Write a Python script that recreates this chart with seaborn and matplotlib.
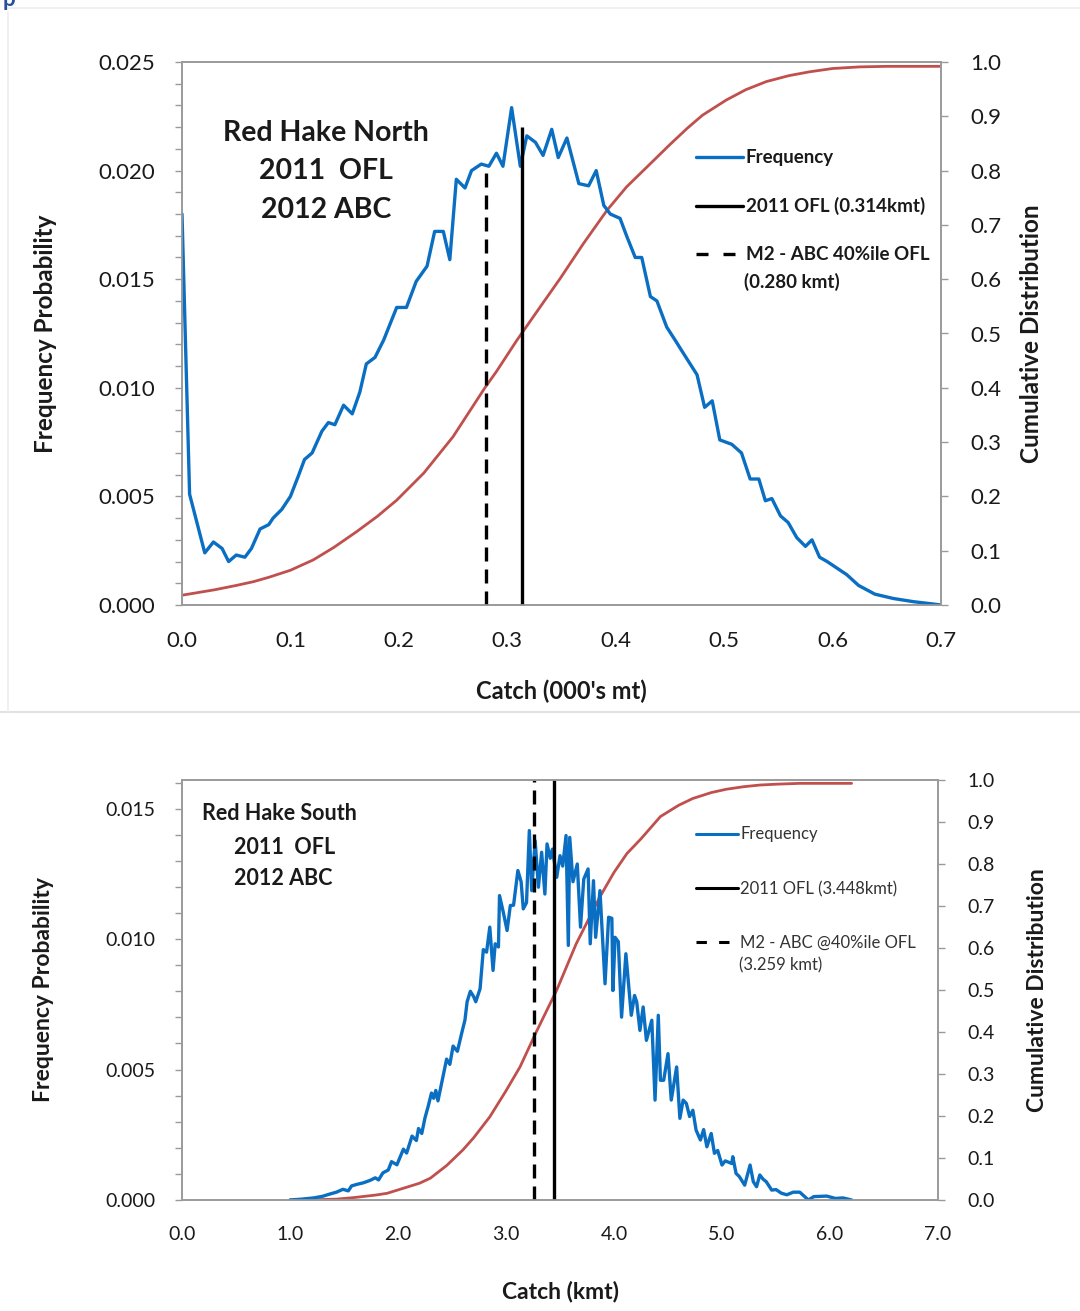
import matplotlib
matplotlib.use('Agg')
import matplotlib.pyplot as plt
import matplotlib.ticker as mticker
from matplotlib.lines import Line2D
import pandas as pd
import seaborn as sns

# Red Hake North - frequency
north_x = [0.000, 0.007, 0.021, 0.029, 0.037, 0.043, 0.050, 0.058, 0.064, 0.072,
           0.080, 0.084, 0.092, 0.100, 0.107, 0.113, 0.120, 0.129, 0.135, 0.141,
           0.149, 0.157, 0.164, 0.170, 0.178, 0.186, 0.198, 0.207, 0.216, 0.226,
           0.233, 0.241, 0.247, 0.253, 0.261, 0.267, 0.276, 0.283, 0.290, 0.296,
           0.304, 0.312, 0.318, 0.326, 0.333, 0.341, 0.347, 0.355, 0.366, 0.375,
           0.382, 0.389, 0.395, 0.404, 0.410, 0.418, 0.424, 0.432, 0.438, 0.447,
           0.456, 0.461, 0.475, 0.482, 0.489, 0.496, 0.507, 0.516, 0.524, 0.532,
           0.538, 0.544, 0.552, 0.559, 0.567, 0.575, 0.581, 0.588, 0.595, 0.604,
           0.613, 0.624, 0.639, 0.656, 0.675, 0.687, 0.700]
north_freq = [0.0180, 0.0051, 0.0024, 0.0029, 0.0026, 0.0020, 0.0023, 0.0022, 0.0026, 0.0035,
              0.0037, 0.0040, 0.0044, 0.0050, 0.0059, 0.0067, 0.0070, 0.0080, 0.0084, 0.0083,
              0.0092, 0.0088, 0.0098, 0.0111, 0.0114, 0.0122, 0.0137, 0.0137, 0.0149, 0.0156,
              0.0172, 0.0172, 0.0159, 0.0196, 0.0192, 0.0200, 0.0203, 0.0202, 0.0208, 0.0202,
              0.0229, 0.0202, 0.0216, 0.0213, 0.0207, 0.0219, 0.0206, 0.0215, 0.0194, 0.0193,
              0.0200, 0.0184, 0.0180, 0.0178, 0.0170, 0.0160, 0.0160, 0.0142, 0.0140, 0.0128,
              0.0121, 0.0117, 0.0106, 0.0091, 0.0094, 0.0076, 0.0074, 0.0070, 0.0058, 0.0058,
              0.0048, 0.0049, 0.0041, 0.0038, 0.0031, 0.0027, 0.0030, 0.0022, 0.0020, 0.0017,
              0.0014, 0.0009, 0.0005, 0.0003, 0.00015, 0.00008, 0.0000]
north_cdf_x = [0.000, 0.030, 0.050, 0.066, 0.080, 0.100, 0.121, 0.140, 0.161, 0.180,
               0.198, 0.223, 0.250, 0.279, 0.290, 0.309, 0.330, 0.349, 0.370, 0.392,
               0.410, 0.429, 0.450, 0.466, 0.480, 0.502, 0.520, 0.539, 0.560, 0.579,
               0.600, 0.625, 0.650, 0.700]
north_cdf = [0.018, 0.028, 0.036, 0.043, 0.051, 0.064, 0.083, 0.106, 0.135, 0.163,
             0.193, 0.243, 0.310, 0.399, 0.430, 0.488, 0.548, 0.602, 0.665, 0.727,
             0.770, 0.807, 0.848, 0.878, 0.902, 0.930, 0.949, 0.964, 0.975, 0.982,
             0.988, 0.991, 0.992, 0.992]
north_ofl = 0.314
north_abc = 0.280

# Red Hake South - frequency
south_x = [1.00, 1.10, 1.22, 1.30, 1.37, 1.43, 1.49, 1.54, 1.57, 1.62,
           1.68, 1.74, 1.79, 1.82, 1.86, 1.91, 1.94, 1.99, 2.05, 2.08,
           2.13, 2.17, 2.19, 2.22, 2.25, 2.28, 2.31, 2.33, 2.35, 2.37,
           2.40, 2.45, 2.48, 2.51, 2.55, 2.59, 2.62, 2.64, 2.67, 2.70,
           2.72, 2.76, 2.79, 2.82, 2.85, 2.88, 2.90, 2.93, 2.94, 2.975,
           3.01, 3.04, 3.07, 3.11, 3.14, 3.16, 3.19, 3.216, 3.238, 3.27,
           3.30, 3.33, 3.36, 3.38, 3.41, 3.43, 3.47, 3.50, 3.525, 3.556,
           3.577, 3.59, 3.62, 3.66, 3.69, 3.72, 3.76, 3.78, 3.81, 3.83,
           3.87, 3.917, 3.95, 3.98, 3.99, 4.01, 4.04, 4.07, 4.11, 4.16,
           4.19, 4.21, 4.24, 4.27, 4.30, 4.35, 4.38, 4.41, 4.43, 4.46,
           4.50, 4.53, 4.58, 4.61, 4.64, 4.67, 4.70, 4.73, 4.76, 4.80,
           4.83, 4.86, 4.90, 4.93, 4.96, 5.00, 5.03, 5.09, 5.10, 5.13,
           5.16, 5.21, 5.26, 5.29, 5.32, 5.35, 5.38, 5.41, 5.46, 5.50,
           5.55, 5.60, 5.66, 5.72, 5.80, 5.85, 5.97, 6.05, 6.12, 6.20]
south_freq = [0.0, 0.00003, 0.00008, 0.00014, 0.00023, 0.00030, 0.00041, 0.00035, 0.00054, 0.00060,
              0.00066, 0.00075, 0.00085, 0.00077, 0.00104, 0.00115, 0.00147, 0.00135, 0.00195, 0.00180,
              0.00245, 0.00228, 0.00274, 0.00255, 0.00315, 0.00360, 0.00410, 0.00390, 0.00420, 0.00380,
              0.00440, 0.00540, 0.00520, 0.00590, 0.00570, 0.00640, 0.00690, 0.00760, 0.00800, 0.00780,
              0.00760, 0.00810, 0.00960, 0.00950, 0.01046, 0.00880, 0.00982, 0.00970, 0.01167, 0.01103,
              0.01033, 0.01129, 0.01130, 0.01263, 0.01220, 0.01116, 0.01140, 0.01416, 0.01186, 0.01377,
              0.01199, 0.01333, 0.01173, 0.01365, 0.01310, 0.01345, 0.01237, 0.01320, 0.01280, 0.01397,
              0.00976, 0.01390, 0.01220, 0.01288, 0.01046, 0.01230, 0.01269, 0.00982, 0.01224, 0.01007,
              0.01186, 0.00829, 0.01084, 0.01080, 0.00803, 0.01007, 0.00990, 0.00701, 0.00944, 0.00708,
              0.00784, 0.00760, 0.00650, 0.00740, 0.00612, 0.00689, 0.00383, 0.00708, 0.00459, 0.00459,
              0.00561, 0.00383, 0.00510, 0.00313, 0.00383, 0.00370, 0.00320, 0.00344, 0.00268, 0.00230,
              0.00270, 0.00204, 0.00255, 0.00179, 0.00190, 0.00134, 0.00150, 0.00140, 0.00166, 0.00102,
              0.00090, 0.00057, 0.00134, 0.00070, 0.00051, 0.00096, 0.00080, 0.00070, 0.00038, 0.00040,
              0.00026, 0.00020, 0.00030, 0.00030, 0.0, 0.00013, 0.00015, 0.00006, 0.00008, 0.0]
south_cdf_x = [1.00, 1.20, 1.43, 1.60, 1.80, 1.90, 2.05, 2.20, 2.30, 2.45,
               2.60, 2.70, 2.85, 3.00, 3.13, 3.28, 3.47, 3.65, 3.87, 4.00,
               4.12, 4.25, 4.43, 4.60, 4.73, 4.90, 5.04, 5.20, 5.35, 5.50,
               5.72, 6.00, 6.20]
south_cdf = [0.0, 0.0005, 0.002, 0.006, 0.012, 0.016, 0.028, 0.040, 0.052, 0.082,
             0.119, 0.148, 0.198, 0.260, 0.317, 0.400, 0.500, 0.610, 0.722, 0.780,
             0.825, 0.860, 0.913, 0.940, 0.956, 0.970, 0.978, 0.984, 0.988, 0.990,
             0.992, 0.992, 0.992]
south_ofl = 3.448
south_abc = 3.259

BLUE = '#0A6FC2'
RED = '#C0504D'
GREY = '#9A9A9A'
TXT = '#1a1a1a'
DASH = (0, (4.2, 2.4))

sns.set_style('white')
plt.rcParams['font.family'] = ['Lato', 'DejaVu Sans']


def style_axes(ax, ax2, tick_size):
    for a in (ax, ax2):
        for s in a.spines.values():
            s.set_color(GREY)
            s.set_linewidth(1.2)
    ax.tick_params(axis='both', which='both', direction='out', length=5, width=1,
                   color=GREY, labelsize=tick_size, labelcolor=TXT, pad=14)
    ax2.tick_params(axis='y', which='both', direction='out', length=5, width=1,
                    color=GREY, labelsize=tick_size, labelcolor=TXT, pad=16)
    ax2.set_ylim(0, 1.0)
    ax2.yaxis.set_major_locator(mticker.MultipleLocator(0.1))
    ax2.yaxis.set_major_formatter(mticker.FormatStrFormatter('%.1f'))
    ax2.grid(False)
    ax.grid(False)


def draw_panel(ax, fx, fy, cx, cy, ofl, abc, ofl_top, abc_top):
    df_f = pd.DataFrame({'x': fx, 'y': fy})
    df_c = pd.DataFrame({'x': cx, 'y': cy})
    ax2 = ax.twinx()
    sns.lineplot(data=df_c, x='x', y='y', ax=ax2, color=RED, linewidth=2.0,
                 estimator=None, sort=False)
    sns.lineplot(data=df_f, x='x', y='y', ax=ax, color=BLUE, linewidth=2.4,
                 estimator=None, sort=False)
    ax.vlines(ofl, 0, ofl_top, color='black', linewidth=2.4)
    ax.vlines(abc, 0, abc_top, color='black', linewidth=2.4, linestyles=DASH)
    ax.set_zorder(ax2.get_zorder() + 1)
    ax.patch.set_visible(False)
    ax2.set_ylabel('')
    return ax2


fig = plt.figure(figsize=(10.8, 13.11), dpi=100)

# ---------- top panel (north) ----------
ax = fig.add_axes([182 / 1080, 1 - 605 / 1311, (941 - 182) / 1080, (605 - 62) / 1311])
ax2 = draw_panel(ax, north_x, north_freq, north_cdf_x, north_cdf,
                 north_ofl, north_abc, 0.0220, 0.0201)
ax.set_xlim(0, 0.7)
ax.set_ylim(0, 0.025)
ax.xaxis.set_major_locator(mticker.MultipleLocator(0.1))
ax.xaxis.set_minor_locator(mticker.MultipleLocator(0.02))
ax.xaxis.set_major_formatter(mticker.FormatStrFormatter('%.1f'))
ax.yaxis.set_major_locator(mticker.MultipleLocator(0.005))
ax.yaxis.set_minor_locator(mticker.MultipleLocator(0.001))
ax.yaxis.set_major_formatter(mticker.FormatStrFormatter('%.3f'))
style_axes(ax, ax2, 16)
ax.set_xlabel("Catch (000's mt)", fontsize=17, fontweight='bold', color=TXT)
ax.set_ylabel('Frequency Probability', fontsize=17.5, fontweight='bold', color=TXT)
ax2.set_ylabel('Cumulative Distribution', fontsize=17.5, fontweight='bold', color=TXT)
ax.xaxis.set_label_coords(0.5, -0.138)
ax.yaxis.set_label_coords(-0.165, 0.5)
ax2.yaxis.set_label_coords(1.104, 0.5)
ax.text(0.19, 0.894, 'Red Hake North\n2011  OFL\n2012 ABC', transform=ax.transAxes,
        ha='center', va='top', fontsize=20.5, fontweight='bold', color=TXT, linespacing=1.6)

handles = [Line2D([], [], color=BLUE, lw=2.4),
           Line2D([], [], color='black', lw=2.4),
           Line2D([], [], color='black', lw=2.4, ls=(0, (3.6, 4.5)))]
labels = ['Frequency', '2011 OFL (0.314kmt)', 'M2 - ABC 40%ile OFL']
leg = ax.legend(handles, labels, loc='upper left', bbox_to_anchor=(0.655, 0.87),
                frameon=False, handlelength=2.5, handletextpad=0.15, labelspacing=1.65,
                prop={'size': 13.5, 'weight': 'bold'})
for t in leg.get_texts():
    t.set_color(TXT)
ax.text(0.74, 0.595, '(0.280 kmt)', transform=ax.transAxes, fontsize=13.5,
        fontweight='bold', color=TXT, va='center')

# ---------- bottom panel (south) ----------
bx = fig.add_axes([182 / 1080, 1 - 1200 / 1311, (938 - 182) / 1080, (1200 - 780) / 1311])
bx2 = draw_panel(bx, south_x, south_freq, south_cdf_x, south_cdf,
                 south_ofl, south_abc, 0.0161, 0.0161)
bx.set_xlim(0, 7.0)
bx.set_ylim(0, 0.0161)
bx.xaxis.set_major_locator(mticker.MultipleLocator(1.0))
bx.xaxis.set_minor_locator(mticker.MultipleLocator(0.2))
bx.xaxis.set_major_formatter(mticker.FormatStrFormatter('%.1f'))
bx.yaxis.set_major_locator(mticker.MultipleLocator(0.005))
bx.yaxis.set_minor_locator(mticker.MultipleLocator(0.001))
bx.yaxis.set_major_formatter(mticker.FormatStrFormatter('%.3f'))
style_axes(bx, bx2, 14)
bx.set_xlabel('Catch (kmt)', fontsize=16.5, fontweight='bold', color=TXT)
bx.set_ylabel('Frequency Probability', fontsize=16.5, fontweight='bold', color=TXT)
bx2.set_ylabel('Cumulative Distribution', fontsize=16.5, fontweight='bold', color=TXT)
bx.xaxis.set_label_coords(0.5, -0.193)
bx.yaxis.set_label_coords(-0.169, 0.5)
bx2.yaxis.set_label_coords(1.118, 0.5)
bx.text(0.027, 0.945, 'Red Hake South', transform=bx.transAxes, ha='left', va='top',
        fontsize=15.5, fontweight='bold', color=TXT)
bx.text(0.069, 0.865, '2011  OFL\n2012 ABC', transform=bx.transAxes, ha='left', va='top',
        fontsize=15.5, fontweight='bold', color=TXT, linespacing=1.6)

handles_s = [Line2D([], [], color=BLUE, lw=2.2),
             Line2D([], [], color='black', lw=2.2),
             Line2D([], [], color='black', lw=2.2, ls=(0, (3.4, 4.0)))]
labels_s = ['Frequency', '2011 OFL (3.448kmt)', 'M2 - ABC @40%ile OFL']
leg2 = bx.legend(handles_s, labels_s, loc='upper left', bbox_to_anchor=(0.66, 0.925),
                 frameon=False, handlelength=2.5, handletextpad=0.15, labelspacing=2.3,
                 prop={'size': 12})
for t in leg2.get_texts():
    t.set_color('#333333')
bx.text(0.737, 0.559, '(3.259 kmt)', transform=bx.transAxes, fontsize=12,
        color='#333333', va='center')

# page decoration: separator and border of the source document
fig.add_artist(Line2D([0, 1], [1 - 712 / 1311] * 2, color='#E2E2E2', lw=1.5))
fig.add_artist(Line2D([8 / 1080] * 2, [1 - 712 / 1311, 1 - 12 / 1311], color='#EDEDED', lw=1.2))
fig.add_artist(Line2D([8 / 1080, 1], [1 - 8 / 1311] * 2, color='#EDEDED', lw=1.2))
fig.text(0.002, 1.0, 'p', color='#2a4f9a', fontsize=16, fontweight='bold', va='center')

fig.savefig('out.png', dpi=100)
